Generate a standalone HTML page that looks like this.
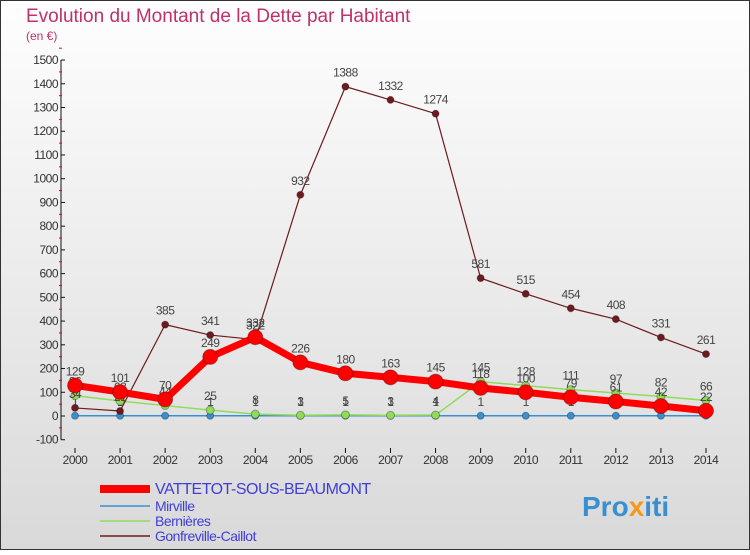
<!DOCTYPE html>
<html><head><meta charset="utf-8"><style>
body{margin:0}
svg text{font-family:"Liberation Sans",sans-serif}
</style></head><body>
<svg width="750" height="550" xmlns="http://www.w3.org/2000/svg">
<defs>
<linearGradient id="bg" x1="0" y1="0" x2="0" y2="1"><stop offset="0" stop-color="#fefefe"/><stop offset="1" stop-color="#d9d9d9"/></linearGradient>
</defs>
<rect x="0.5" y="0.5" width="749" height="549" fill="url(#bg)" stroke="#333"/>
<text x="26" y="22" font-size="19" fill="#c0306a">Evolution du Montant de la Dette par Habitant</text>
<text x="26" y="40" font-size="12" fill="#c0306a">(en €)</text>
<g id="axes"></g>
<g id="series"></g>
<g id="legend"></g>
<text x="582" y="516" font-size="28" font-weight="bold" fill="#3a8fd0">Pro<tspan fill="#f29a1a">x</tspan>iti</text>
<script>
const years=[2000,2001,2002,2003,2004,2005,2006,2007,2008,2009,2010,2011,2012,2013,2014];
const yTicks=[-100,0,100,200,300,400,500,600,700,800,900,1000,1100,1200,1300,1400,1500];
const vattetot=[129,101,70,249,332,226,180,163,145,118,100,79,61,42,22];
const mirville=[1,1,1,1,1,1,1,1,1,1,1,1,1,1,1];
const bernieres=[86,63,44,25,8,3,5,3,4,145,128,111,97,82,66];
const gonfreville=[34,21,385,341,322,932,1388,1332,1274,581,515,454,408,331,261];
const NS="http://www.w3.org/2000/svg";
const X=i=>75+i*(706-75)/14;
const Y=v=>416-v*0.2373;
function mk(tag,attrs,parent,txt){const e=document.createElementNS(NS,tag);for(const k in attrs)e.setAttribute(k,attrs[k]);if(txt!==undefined)e.textContent=txt;parent.appendChild(e);return e;}
const ax=document.getElementById('axes');
let l=mk('line',{x1:61,y1:Y(1500),x2:61,y2:Y(-100),stroke:'#111'},ax);

yTicks.forEach(t=>{mk('line',{x1:61,y1:Y(t),x2:65,y2:Y(t),stroke:'#111'},ax);
 mk('line',{x1:59,y1:Y(t+50),x2:62,y2:Y(t+50),stroke:'#e00'},ax);
 const tx=mk('text',{x:58,y:Y(t)+4,'font-size':12,'text-anchor':'end',fill:'#333','letter-spacing':'-0.5'},ax,String(t));
 });
years.forEach((y,i)=>{mk('line',{x1:X(i),y1:448,x2:X(i),y2:453,stroke:'#111'},ax);
 const tx=mk('text',{x:X(i),y:464,'font-size':12,'text-anchor':'middle',fill:'#333','letter-spacing':'-0.5'},ax,String(y));
 });
const sg=document.getElementById('series');
function series(name,vals,color,w,r,labels){
 const g=mk('g',{},sg);
 mk('polyline',{points:vals.map((v,i)=>X(i)+','+Y(v)).join(' '),fill:'none',stroke:color,'stroke-width':w,'stroke-linejoin':'round'},g);
 vals.forEach((v,i)=>{const c=mk('circle',{cx:X(i),cy:Y(v),r:r,fill:color,stroke:'rgba(0,0,0,0.3)'},g);
  
  if(labels){const t=mk('text',{x:X(i),y:Y(v)-10,'font-size':12,'text-anchor':'middle',fill:'#444','letter-spacing':'-0.5'},g,String(v));
  }});
}
series('series-mirville',mirville,'#3a8fd0',1.5,3.5,true);
series('series-bernieres',bernieres,'#8fdc5a',1.5,4,true);
series('series-gonfreville',gonfreville,'#6e1a1e',1.2,3.5,true);
series('series-vattetot',vattetot,'#ff0000',7,7.5,true);
const lg=document.getElementById('legend');
const items=[['VATTETOT-SOUS-BEAUMONT','#ff0000',8,14],['Mirville','#3a8fd0',1.5,12],['Bernières','#8fdc5a',1.5,12],['Gonfreville-Caillot','#6e1a1e',1.5,12]];
const ly=[493,510,525,540];
items.forEach((it,k)=>{const g=mk('g',{},lg);
 mk('line',{x1:100,y1:ly[k]-4,x2:150,y2:ly[k]-4,stroke:it[1],'stroke-width':it[2]},g);
 mk('text',{x:155,y:ly[k]+1,'font-size':it[3]+2,fill:'#3f3fd8','letter-spacing':'-0.5'},g,it[0]);});
</script>
</svg>
</body></html>
